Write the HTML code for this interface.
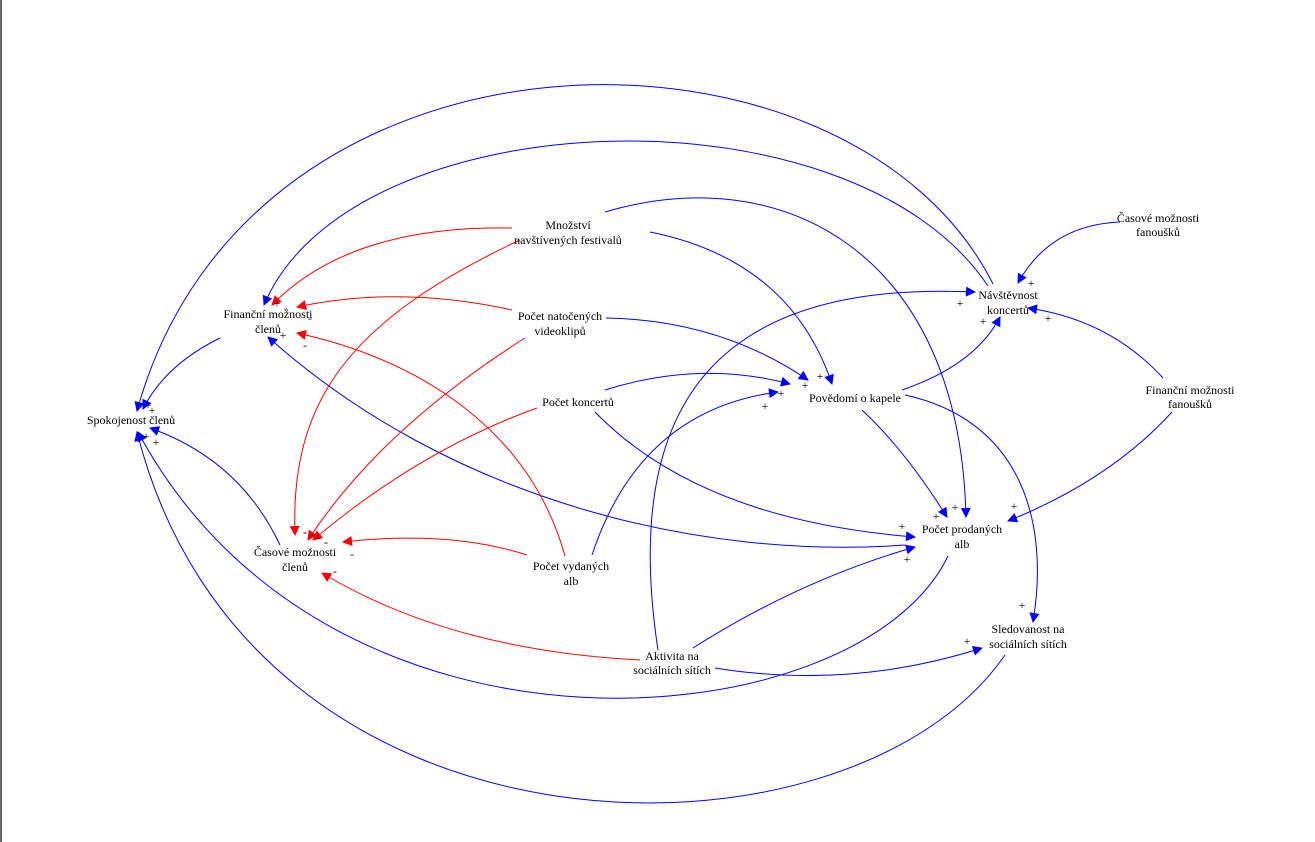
<!DOCTYPE html>
<html><head><meta charset="utf-8"><style>
html,body{margin:0;padding:0;background:#fff;}
svg{display:block;}
text{font-family:"Liberation Serif",serif;font-size:12px;fill:#000;}
.b{fill:none;stroke:#0000ff;stroke-width:1;}
.r{fill:none;stroke:#ff0000;stroke-width:1;}
.s{font-size:11px;}
.m{font-size:11px;fill:#ff0000;}
</style></head><body>
<svg width="1315" height="842" viewBox="0 0 1315 842">
<defs>
<marker id="ab" viewBox="0 0 10 10" refX="9" refY="5" markerWidth="13" markerHeight="10" markerUnits="userSpaceOnUse" orient="auto"><path d="M0,0 L10,5 L0,10 z" fill="#0000ff"/></marker>
<marker id="ar" viewBox="0 0 10 10" refX="9" refY="5" markerWidth="13" markerHeight="10" markerUnits="userSpaceOnUse" orient="auto"><path d="M0,0 L10,5 L0,10 z" fill="#ff0000"/></marker>
</defs>
<rect x="0" y="0" width="2" height="842" fill="#666"/>
<g marker-end="url(#ab)">
<path class="b" d="M993,284 C850,0 250,0 137,411"/>
<path class="b" d="M988,286 C850,80 350,100 264,305"/>
<path class="b" d="M220,338 Q165,365 143,409"/>
<path class="b" d="M280,545 Q240,460 150,428"/>
<path class="b" d="M948,556 C860,740 330,790 138,432"/>
<path class="b" d="M1005,655 C850,880 250,880 137,432"/>
<path class="b" d="M905,545 C700,560 450,500 268,337"/>
<path class="b" d="M605,390 Q700,360 790,384"/>
<path class="b" d="M595,412 Q700,520 915,537"/>
<path class="b" d="M606,318 Q720,320 808,380"/>
<path class="b" d="M605,212 C780,160 960,250 966,517"/>
<path class="b" d="M650,232 Q790,260 832,384"/>
<path class="b" d="M592,555 Q640,410 778,392"/>
<path class="b" d="M658,650 C620,400 720,280 975,292"/>
<path class="b" d="M693,648 Q800,580 915,547"/>
<path class="b" d="M715,668 Q850,690 982,648"/>
<path class="b" d="M902,390 Q975,365 1000,317"/>
<path class="b" d="M862,410 Q905,450 947,517"/>
<path class="b" d="M905,395 C1020,420 1050,520 1033,622"/>
<path class="b" d="M1120,222 Q1050,225 1018,283"/>
<path class="b" d="M1163,378 Q1110,320 1028,308"/>
<path class="b" d="M1172,412 Q1110,480 1008,521"/>
</g>
<g marker-end="url(#ar)">
<path class="r" d="M512,228 Q350,225 272,305"/>
<path class="r" d="M520,240 C350,320 290,400 295,535"/>
<path class="r" d="M512,310 Q400,285 297,307"/>
<path class="r" d="M525,338 Q380,430 308,540"/>
<path class="r" d="M537,408 Q420,450 313,540"/>
<path class="r" d="M565,556 C530,430 420,360 297,333"/>
<path class="r" d="M527,555 Q450,530 343,542"/>
<path class="r" d="M640,660 Q450,650 322,573"/>
</g>
<g text-anchor="middle">
<text x="568" y="229">Množství</text><text x="568" y="244">navštívených festivalů</text>
<text x="268" y="318">Finanční možnosti</text><text x="268" y="333">členů</text>
<text x="560" y="320">Počet natočených</text><text x="560" y="335">videoklipů</text>
<text x="131" y="424">Spokojenost členů</text>
<text x="578" y="406">Počet koncertů</text>
<text x="855" y="402">Povědomí o kapele</text>
<text x="1008" y="299">Návštěvnost</text><text x="1008" y="314">koncertů</text>
<text x="1158" y="222">Časové možnosti</text><text x="1158" y="236">fanoušků</text>
<text x="1190" y="394">Finanční možnosti</text><text x="1190" y="408">fanoušků</text>
<text x="962" y="533">Počet prodaných</text><text x="962" y="548">alb</text>
<text x="295" y="556">Časové možnosti</text><text x="295" y="571">členů</text>
<text x="571" y="570">Počet vydaných</text><text x="571" y="585">alb</text>
<text x="1028" y="633">Sledovanost na</text><text x="1028" y="648">sociálních sítích</text>
<text x="672" y="660">Aktivita na</text><text x="672" y="674">sociálních sítích</text>
</g>
<g class="s" text-anchor="middle">
<text x="148" y="409">+</text><text x="152" y="414">+</text>
<text x="146" y="440">+</text><text x="156" y="446">+</text>
<text x="277" y="307">+</text><text x="283" y="339">+</text>
<text x="1031" y="287">+</text><text x="960" y="307">+</text><text x="983" y="325">+</text><text x="1048" y="322">+</text>
<text x="820" y="380">+</text><text x="805" y="389">+</text><text x="781" y="397">+</text><text x="765" y="410">+</text>
<text x="955" y="511">+</text><text x="936" y="520">+</text><text x="902" y="530">+</text><text x="1014" y="510">+</text><text x="907" y="563">+</text>
<text x="1022" y="609">+</text><text x="967" y="645">+</text>
</g>
<g class="m" text-anchor="middle">
<text x="286" y="312">-</text><text x="310" y="322">-</text><text x="305" y="349">-</text>
<text x="305" y="536">-</text><text x="313" y="538">-</text><text x="319" y="541">-</text><text x="326" y="546">-</text><text x="352" y="558">-</text><text x="335" y="575">-</text>
</g>
</svg>
</body></html>
